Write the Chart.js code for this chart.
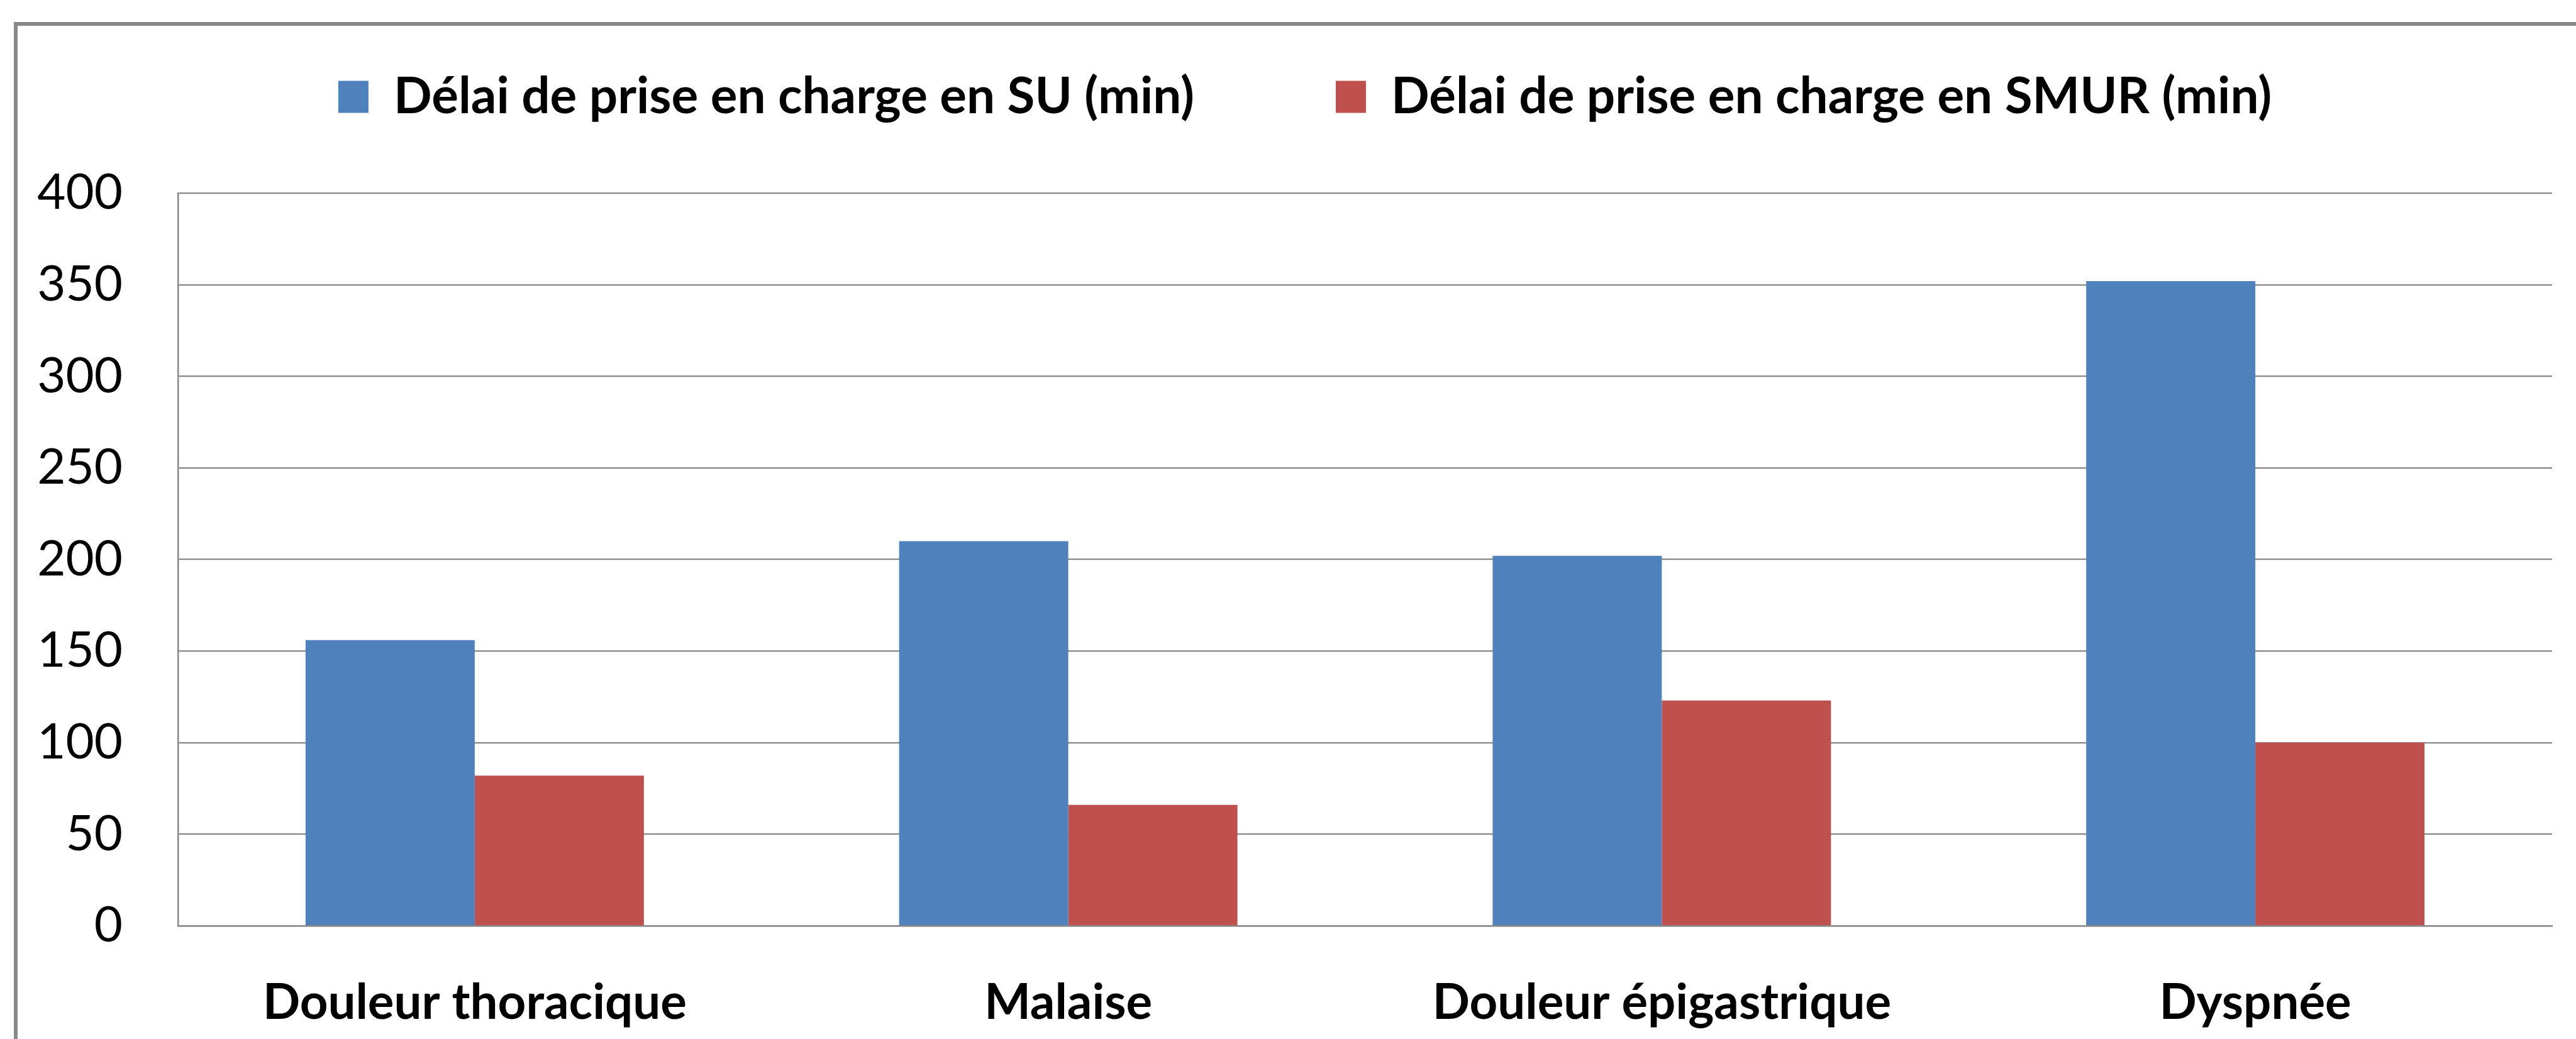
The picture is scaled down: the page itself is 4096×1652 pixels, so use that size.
<!DOCTYPE html>
<html>
<head>
<meta charset="utf-8">
<script src="https://cdn.jsdelivr.net/npm/chart.js@4.4.1/dist/chart.umd.min.js"></script>
<style>
  html, body { margin: 0; padding: 0; background: #fff; }
  #wrap { position: relative; width: 4096px; height: 1652px; }
  #frame {
    position: absolute; left: 22px; top: 35px; right: -10px; bottom: -10px;
    border-top: 6px solid #888; border-left: 6px solid #888;
    pointer-events: none;
  }
</style>
</head>
<body>
<div id="wrap">
  <canvas id="myChart"></canvas>
  <div id="frame"></div>
</div>
<script>
const categories = ['Douleur thoracique', 'Malaise', 'Douleur épigastrique', 'Dyspnée'];
const suValues = [156, 210, 202, 352];
const smurValues = [82, 66, 123, 100];
const seriesNames = ['Délai de prise en charge en SU (min)', 'Délai de prise en charge en SMUR (min)'];

Chart.defaults.font.family = 'Lato';
Chart.defaults.color = '#000';

// the legend in the original sits a bit right of the page centre
const legendShift = {
    id: 'legendShift',
    afterLayout(chart) {
        if (chart.legend) {
            chart.legend.left += 46;
            chart.legend.right += 46;
        }
    }
};

const ctx = document.getElementById('myChart').getContext('2d');
new Chart(ctx, {
    type: 'bar',
    data: {
        labels: categories,
        datasets: [{
            label: seriesNames[0],
            data: suValues,
            backgroundColor: '#4F81BD',
            categoryPercentage: 0.57,
            barPercentage: 1
        }, {
            label: seriesNames[1],
            data: smurValues,
            backgroundColor: '#C0504D',
            categoryPercentage: 0.57,
            barPercentage: 1
        }]
    },
    options: {
        responsive: true,
        maintainAspectRatio: false,
        devicePixelRatio: 1,
        animation: false,
        layout: {
            padding: { top: -111, left: 0, right: 38, bottom: 0 }
        },
        plugins: {
            legend: {
                position: 'top',
                labels: {
                    boxWidth: 48,
                    boxHeight: 51,
                    padding: 225,
                    color: '#000',
                    font: { size: 80, weight: 'bold' }
                }
            },
            // empty title only used as spacing between legend and plot
            title: {
                display: true,
                text: '',
                weight: 500,
                padding: 0,
                font: { size: 86, lineHeight: 1.2 }
            },
            tooltip: { enabled: false }
        },
        scales: {
            x: {
                grid: { display: false },
                border: { display: true, color: '#888', width: 2.5 },
                ticks: {
                    padding: 68,
                    color: '#000',
                    font: { size: 78, weight: 'bold' }
                },
                afterFit: (scale) => { scale.height = 180; }
            },
            y: {
                min: 0,
                max: 400,
                grid: { color: '#888', lineWidth: 2.2, drawTicks: false },
                border: { display: true, color: '#888', width: 2.5 },
                ticks: {
                    stepSize: 50,
                    padding: 88,
                    color: '#000',
                    font: { size: 78 }
                },
                afterFit: (scale) => { scale.width = 283; }
            }
        }
    },
    plugins: [legendShift]
});
</script>
</body>
</html>
